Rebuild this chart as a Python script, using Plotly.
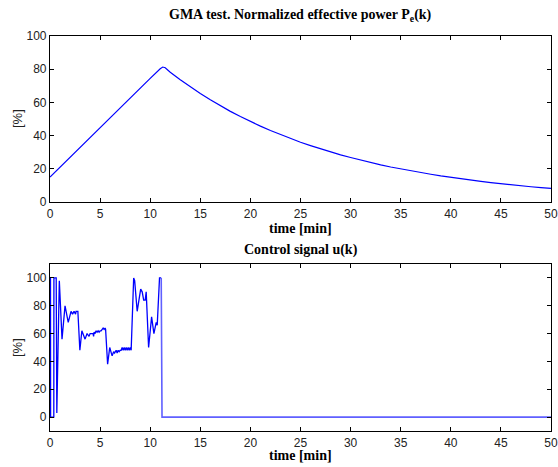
import plotly.graph_objects as go

# Top: normalized effective power Pe(k) [%]
pe_t = [0, 1, 2, 3, 4, 5, 6, 7, 8, 9, 10, 11, 11.25, 11.5, 12, 13, 14, 15, 16, 17, 18, 19, 20,
        21, 22, 23, 24, 25, 26, 27, 28, 29, 30, 31, 32, 33, 34, 35, 36, 37, 38, 39, 40,
        41, 42, 43, 44, 45, 46, 47, 48, 49, 50]
pe_v = [15, 21, 27, 33, 39, 44.5, 50.5, 56.5, 62.5, 68.5, 74.5, 80.3, 81.3, 80.9, 78.2, 73.7, 69.4,
        65.4, 61.6, 58.0, 54.6, 51.5, 48.5, 45.7, 43.1, 40.6, 38.2, 36.0, 34.0, 32.0, 30.2,
        28.4, 26.8, 25.2, 23.8, 22.4, 21.1, 19.9, 18.8, 17.7, 16.7, 15.7, 14.8, 13.9, 13.1,
        12.4, 11.7, 11.0, 10.4, 9.8, 9.2, 8.7, 8.2]

# Bottom: control signal u(k) [%] (active part)
u_t = [0.00, 0.05, 0.06, 0.38, 0.39, 0.62, 0.68, 0.93, 1.2, 1.5, 1.82, 2.1, 2.25, 2.4, 2.55, 2.6,
       2.78, 2.98, 3.18, 3.5, 3.7, 3.9, 4.0, 4.3, 4.35, 4.4, 4.5, 4.6, 4.7, 4.8, 4.9, 5.0, 5.1,
       5.2, 5.3, 5.4, 5.5, 5.55, 5.75, 5.96, 6.2, 6.35, 6.45, 6.6, 6.7, 6.8, 6.9, 7.0, 7.1, 7.2,
       7.3, 7.4, 7.5, 7.6, 7.7, 7.8, 7.9, 8.0, 8.1, 8.35, 8.45, 8.7, 9.05, 9.2, 9.35, 9.5, 9.6,
       9.84, 10.14, 10.37, 10.6, 10.7, 10.93, 11.1]
u_v = [100, 100, 0, 0, 100, 100, 3, 98, 56, 80, 68, 76, 74, 76, 74, 76,
       76, 48, 62, 56, 60, 58, 60, 60, 58, 61, 60, 62, 61, 62, 61, 62, 62,
       63, 64, 63, 64, 63, 38, 50, 44, 47, 46, 48, 46, 48, 47, 48, 48, 50,
       48, 50, 48, 50, 48, 50, 48, 50, 48, 100, 98, 76, 92, 90, 84, 84, 90,
       50, 72, 60, 68, 66, 100, 100]
# Bottom: control signal after switch-off
u2_t = [11.1, 11.18, 50]
u2_v = [100, 0, 0]

x_ticks = [0, 5, 10, 15, 20, 25, 30, 35, 40, 45, 50]
y_ticks = [0, 20, 40, 60, 80, 100]

fig = go.Figure()
fig.add_trace(go.Scatter(x=pe_t, y=pe_v, mode="lines", line=dict(color="#0000ff", width=1.2),
                         xaxis="x", yaxis="y", showlegend=False))
fig.add_trace(go.Scatter(x=u_t, y=u_v, mode="lines", line=dict(color="#0000ff", width=1.3),
                         xaxis="x2", yaxis="y2", showlegend=False))
fig.add_trace(go.Scatter(x=u2_t, y=u2_v, mode="lines", line=dict(color="#6060ff", width=1.6),
                         xaxis="x2", yaxis="y2", showlegend=False))

tickfont = dict(family="Liberation Sans, Arial, sans-serif", size=12, color="#222222")
axcommon = dict(showline=True, linecolor="black", linewidth=1.2, mirror="ticks", ticks="inside",
                ticklen=4, tickcolor="black", showgrid=False, zeroline=False, tickfont=tickfont,
                ticklabeloverflow="allow", automargin=False)

H = 395.0
top_bottom = (431 - 202) / H
bot_top = (431 - 264) / H

fig.update_layout(
    width=558, height=467,
    margin=dict(l=50, r=7, t=36, b=36),
    plot_bgcolor="white", paper_bgcolor="white",
    xaxis=dict(domain=[0, 1], range=[0, 50], tickvals=x_ticks, anchor="y", **axcommon),
    yaxis=dict(domain=[top_bottom, 1], range=[0, 100], tickvals=y_ticks, anchor="x", **axcommon),
    xaxis2=dict(domain=[0, 1], range=[0, 50], tickvals=x_ticks, anchor="y2", **axcommon),
    yaxis2=dict(domain=[0, bot_top], range=[-10, 110], tickvals=y_ticks, anchor="x2", **axcommon),
)

serif = dict(family="Liberation Serif, Times New Roman, serif", size=14, color="black")
sans = dict(family="Liberation Sans, Arial, sans-serif", size=13, color="#222222")

def ypx(p):
    return (431 - p) / H

ann = [
    dict(text="<b>GMA test. Normalized effective power P<sub>e</sub>(k)</b>", x=0.5, y=ypx(16), font=serif),
    dict(text="<b>time [min]</b>", x=0.5, y=ypx(228), font=serif),
    dict(text="<b>Control signal u(k)</b>", x=0.5, y=ypx(250), font=serif),
    dict(text="<b>time [min]</b>", x=0.5, y=ypx(456), font=serif),
    dict(text="[%]", x=(17 - 50) / 501, y=ypx(119), font=sans, textangle=-90),
    dict(text="[%]", x=(17 - 50) / 501, y=ypx(348), font=sans, textangle=-90),
]
for a in ann:
    a.update(xref="paper", yref="paper", showarrow=False, xanchor="center", yanchor="middle")
fig.update_layout(annotations=ann)

fig.write_html("out.html")
